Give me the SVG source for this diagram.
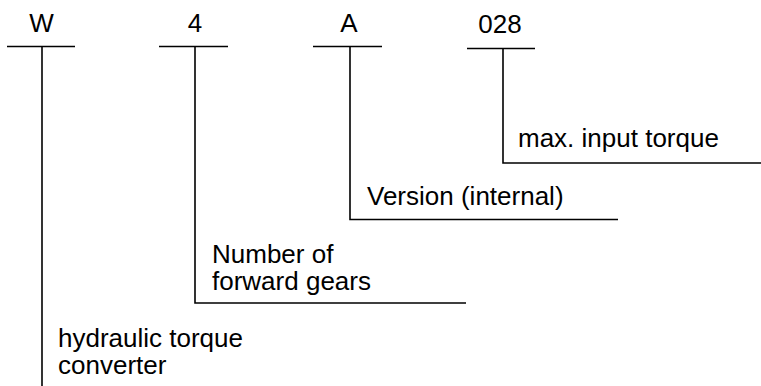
<svg xmlns="http://www.w3.org/2000/svg" width="761" height="386" viewBox="0 0 761 386">
<style>
text{font-family:"Liberation Sans",Arial,sans-serif;font-size:26px;fill:#000}
.c{text-anchor:middle}
line,polyline{stroke:#000;stroke-width:1.6;fill:none}
</style>
<rect width="761" height="386" fill="#fff"/>
<g id="code-W"><text class="c" x="41.5" y="32">W</text><line x1="7" y1="46.5" x2="75" y2="46.5"/></g>
<g id="code-4"><text class="c" x="195" y="32">4</text><line x1="159" y1="46.5" x2="228" y2="46.5"/></g>
<g id="code-A"><text class="c" x="349" y="32">A</text><line x1="313" y1="46.5" x2="382" y2="46.5"/></g>
<g id="code-028"><text class="c" x="500" y="33">028</text><line x1="467" y1="48.5" x2="535" y2="48.5"/></g>
<g id="label-torque"><text x="518" y="147">max. input torque</text></g>
<g id="label-version"><text x="367" y="205">Version (internal)</text></g>
<g id="label-gears"><text x="212" y="263">Number of</text><text x="212" y="290">forward gears</text></g>
<g id="label-converter"><text x="58" y="347">hydraulic torque</text><text x="58" y="374">converter</text></g>
<g id="connectors">
<polyline points="503,48.5 503,163 761,163"/>
<polyline points="350,46.5 350,219.5 618,219.5"/>
<polyline points="195,46.5 195,303 466,303"/>
<line x1="42" y1="46.5" x2="42" y2="386"/>
</g>
</svg>
